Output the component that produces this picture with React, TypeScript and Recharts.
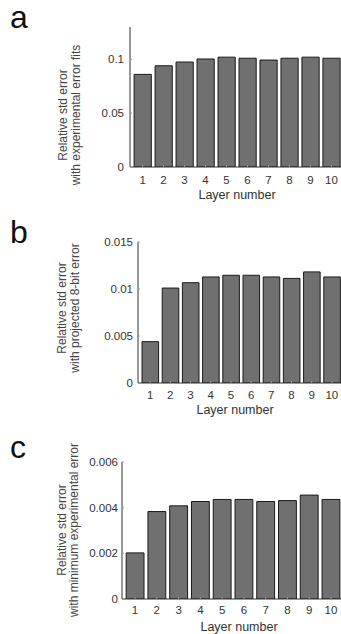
import React from "react";
import { BarChart, Bar, XAxis, YAxis } from "recharts";

const layers = [1, 2, 3, 4, 5, 6, 7, 8, 9, 10];

// a: experimental error fits
const errFits = [0.086, 0.094, 0.0975, 0.1003, 0.102, 0.101, 0.0993, 0.101, 0.102, 0.101];
// b: projected 8-bit error
const err8bit = [0.0044, 0.0101, 0.01067, 0.01128, 0.01146, 0.01146, 0.01128, 0.01113, 0.01182, 0.01128];
// c: minimum experimental error
const errMin = [0.00202, 0.00383, 0.00408, 0.00427, 0.00436, 0.00436, 0.00427, 0.00431, 0.00455, 0.00436];

const ticksA = [0, 0.05, 0.1];
const ticksB = [0, 0.005, 0.01, 0.015];
const ticksC = [0, 0.002, 0.004, 0.006];

const FONT = "'Liberation Sans', Arial, sans-serif";
const CHART_W = 350;

interface PanelProps {
  letter: string;
  letterBase: number;
  values: number[];
  yTicks: number[];
  yMax: number;
  yLabel: [string, string];
  labelX: [number, number];
  labelCy: number;
  xLabelCx: number;
  xLabelCy: number;
  plotTop: number;
  plotBottom: number;
  plotLeft: number;
  tickGap: number;
  yTickGap: number;
}

function Panel(p: PanelProps) {
  const chartTop = p.plotTop - 20;
  const chartH = p.plotBottom - chartTop + 45;
  const plotRight = 344;
  const band = (plotRight - p.plotLeft) / 10.2;
  const data = layers.map((layer, i) => ({ layer, v: p.values[i] }));

  return (
    <>
      <div
        style={{
          position: "absolute",
          left: 10,
          top: p.letterBase - 29,
          fontFamily: FONT,
          fontSize: 32,
          lineHeight: "36px",
          color: "#111",
        }}
      >
        {p.letter}
      </div>
      <div style={{ position: "absolute", left: 0, top: chartTop }}>
        <BarChart
          width={CHART_W}
          height={chartH}
          data={data}
          style={{ fontFamily: FONT }}
          margin={{ top: 20, right: CHART_W - plotRight, bottom: 0, left: 0 }}
        >
          <XAxis
            dataKey="layer"
            type="number"
            domain={[0.4, 10.6]}
            ticks={layers}
            allowDataOverflow
            height={45}
            tickSize={-2}
            tickMargin={p.tickGap}
            stroke="#333"
            tickLine={{ stroke: "#999" }}
            tick={{ fill: "#333", fontSize: 11.5, fontFamily: FONT }}
            label={{
              content: () => (
                <text
                  x={p.xLabelCx}
                  y={p.xLabelCy - chartTop}
                  textAnchor="middle"
                  dominantBaseline="central"
                  fill="#333"
                  fontSize={12.5}
                  fontFamily={FONT}
                >
                  Layer number
                </text>
              ),
            }}
          />
          <XAxis
            xAxisId="top"
            orientation="top"
            type="number"
            domain={[0.4, 10.6]}
            ticks={layers}
            height={0}
            tickSize={-2}
            stroke="#333"
            tickLine={{ stroke: "#999" }}
            tickFormatter={() => ""}
          />
          <YAxis
            type="number"
            domain={[0, p.yMax]}
            ticks={p.yTicks}
            allowDataOverflow
            width={p.plotLeft}
            tickSize={-2}
            tickMargin={p.yTickGap}
            stroke="#333"
            tickLine={{ stroke: "#999" }}
            tick={{ fill: "#333", fontSize: 11.5, fontFamily: FONT }}
            label={{
              content: () => (
                <g fill="#444" fontSize={12} fontFamily={FONT}>
                  {p.yLabel.map((t, i) => (
                    <text
                      key={i}
                      x={p.labelX[i]}
                      y={p.labelCy - chartTop}
                      textAnchor="middle"
                      dominantBaseline="central"
                      transform={`rotate(-90 ${p.labelX[i]} ${p.labelCy - chartTop})`}
                    >
                      {t}
                    </text>
                  ))}
                </g>
              ),
            }}
          />
          <Bar
            dataKey="v"
            fill="#707070"
            stroke="#1a1a1a"
            strokeWidth={1}
            barSize={band * 0.82}
            isAnimationActive={false}
          />
        </BarChart>
      </div>
    </>
  );
}

export default function App() {
  return (
    <div
      style={{
        position: "fixed",
        left: 0,
        top: 0,
        width: 341,
        height: 634,
        overflow: "hidden",
        background: "#fff",
        fontFamily: FONT,
      }}
    >
      <style>{"html,body{margin:0;padding:0;overflow:hidden;}"}</style>
      <Panel
        letter="a"
        letterBase={28}
        values={errFits}
        yTicks={ticksA}
        yMax={0.13}
        yLabel={["Relative std error", "with experimental error fits"]}
        labelX={[63, 76]}
        labelCy={115}
        xLabelCx={237}
        xLabelCy={195}
        plotTop={27}
        plotBottom={167}
        plotLeft={130}
        tickGap={11}
        yTickGap={8}
      />
      <Panel
        letter="b"
        letterBase={243}
        values={err8bit}
        yTicks={ticksB}
        yMax={0.015}
        yLabel={["Relative std error", "with  projected 8-bit error"]}
        labelX={[62, 75]}
        labelCy={308}
        xLabelCx={235}
        xLabelCy={410}
        plotTop={242}
        plotBottom={383}
        plotLeft={138}
        tickGap={10}
        yTickGap={7}
      />
      <Panel
        letter="c"
        letterBase={458}
        values={errMin}
        yTicks={ticksC}
        yMax={0.006}
        yLabel={["Relative std error", "with minimum experimental error"]}
        labelX={[62, 74]}
        labelCy={530}
        xLabelCx={239}
        xLabelCy={627}
        plotTop={462}
        plotBottom={599}
        plotLeft={122}
        tickGap={9}
        yTickGap={6}
      />
    </div>
  );
}
